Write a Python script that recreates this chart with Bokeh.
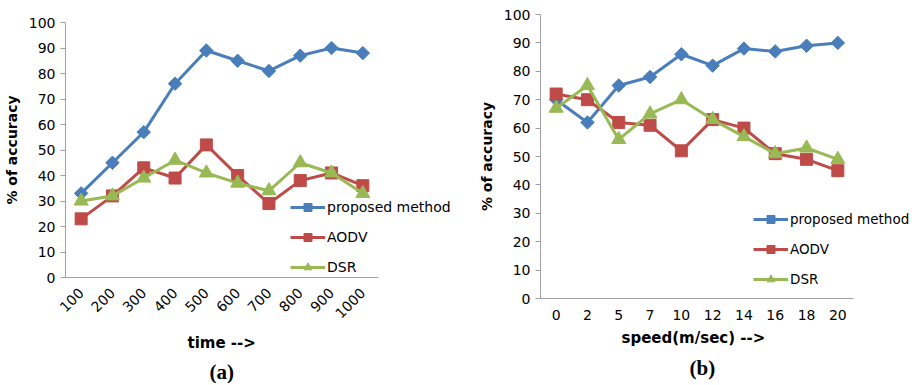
from bokeh.plotting import figure
from bokeh.models import Range1d, FixedTicker, Legend, LegendItem, Title
from bokeh.layouts import row, column
from bokeh.embed import file_html
from bokeh.resources import INLINE
import math

# ---- data ----
time_cats = ["100", "200", "300", "400", "500", "600", "700", "800", "900", "1000"]
time_proposed = [33, 45, 57, 76, 89, 85, 81, 87, 90, 88]
time_aodv = [23, 32, 43, 39, 52, 40, 29, 38, 41, 36]
time_dsr = [30, 32, 39, 46, 41, 37, 34, 45, 41, 33]

speed_cats = ["0", "2", "5", "7", "10", "12", "14", "16", "18", "20"]
speed_proposed = [70, 62, 75, 78, 86, 82, 88, 87, 89, 90]
speed_aodv = [72, 70, 62, 61, 52, 63, 60, 51, 49, 45]
speed_dsr = [67, 75, 56, 65, 70, 63, 57, 51, 53, 49]

series_names = ["proposed method", "AODV", "DSR"]
y_ticks = [0, 10, 20, 30, 40, 50, 60, 70, 80, 90, 100]

BLUE = "#4A7EBB"
RED = "#BE4B48"
GREEN = "#98B954"
AXIS = "#A0A0A0"
FONT = "DejaVu Sans"
CAT_PX = 31.3  # pixels per category slot


def make_panel(cats, proposed, aodv, dsr, xlabel, caption, width, height,
               bl, br, bt, bb, rotate, legend_loc, legend_font, label_standoff,
               xlabel_offset, xlabel_standoff, cap_offset, cap_standoff):
    n = len(cats)
    xs = list(range(n))
    frame_w = width - bl - br
    x_end = -0.5 + frame_w / CAT_PX
    p = figure(x_range=Range1d(-0.5, x_end), y_range=Range1d(0, 100),
               width=width, height=height,
               output_backend="svg", toolbar_location=None,
               min_border_left=bl, min_border_right=br,
               min_border_top=bt, min_border_bottom=bb)
    p.outline_line_color = None
    p.xgrid.visible = False
    p.ygrid.visible = False
    p.background_fill_color = "white"
    p.border_fill_color = "white"

    items = []
    specs = [
        (proposed, BLUE, "square", 9.5, math.pi / 4, series_names[0]),
        (aodv, RED, "square", 12, 0, series_names[1]),
        (dsr, GREEN, "triangle", 14, 0, series_names[2]),
    ]
    for vals, col, marker, size, ang, name in specs:
        ln = p.line(xs, vals, line_color=col, line_width=3)
        sc = p.scatter(xs, vals, marker=marker, size=size, angle=ang,
                       fill_color=col, line_color=col)
        items.append(LegendItem(label=name, renderers=[ln, sc]))

    legend = Legend(items=items, location=legend_loc, padding=0, margin=0,
                    spacing=10, glyph_width=35, glyph_height=20,
                    label_standoff=2, label_text_font=FONT,
                    label_text_font_size=legend_font,
                    label_text_color="#000000",
                    background_fill_alpha=0, border_line_color=None)
    p.add_layout(legend, "center")

    ya = p.yaxis[0]
    ya.ticker = FixedTicker(ticks=y_ticks)
    ya.axis_line_color = AXIS
    ya.major_tick_line_color = AXIS
    ya.major_tick_out = 5
    ya.major_tick_in = 0
    ya.minor_tick_line_color = None
    ya.major_label_text_font = FONT
    ya.major_label_text_font_size = "14px"
    ya.major_label_text_color = "#000000"
    ya.major_label_standoff = 5
    ya.axis_label = "% of accuracy"
    ya.axis_label_text_font = FONT
    ya.axis_label_text_font_style = "bold"
    ya.axis_label_text_font_size = "14px"
    ya.axis_label_text_color = "#000000"
    ya.axis_label_standoff = 6

    xa = p.xaxis[0]
    xa.ticker = FixedTicker(ticks=xs)
    xa.major_label_overrides = {i: c for i, c in zip(xs, cats)}
    xa.bounds = (-0.5, n - 0.5)
    xa.axis_line_color = AXIS
    xa.major_tick_line_color = None
    xa.major_tick_out = 0
    xa.major_tick_in = 0
    xa.minor_tick_line_color = None
    xa.major_label_text_font = FONT
    xa.major_label_text_font_size = "14px"
    xa.major_label_text_color = "#000000"
    xa.major_label_standoff = label_standoff
    if rotate:
        xa.major_label_orientation = math.pi / 4

    xt = Title(text=xlabel, align="left", offset=xlabel_offset,
               text_font=FONT, text_font_style="bold", text_font_size="15px",
               text_color="#000000", standoff=xlabel_standoff)
    p.add_layout(xt, "below")
    cap = Title(text=caption, align="left", offset=cap_offset,
                text_font="Liberation Serif",
                text_font_style="bold", text_font_size="21px",
                text_color="#000000", standoff=cap_standoff)
    p.add_layout(cap, "below")
    return p


left = make_panel(time_cats, time_proposed, time_aodv, time_dsr, "time -->", "(a)",
                  460, 383, 65, 0, 22, 100, True, (225, 0), "14px", 13,
                  122, 12, 144, 0)
right = make_panel(speed_cats, speed_proposed, speed_aodv, speed_dsr,
                   "speed(m/sec)  -->", "(b)",
                   452, 383, 80, 0, 14, 80, False, (213, 9), "13.5px", 11,
                   81, 8, 149, 7)

layout = row(column(left), column(right))
open("out.html", "w").write(file_html(layout, INLINE))
